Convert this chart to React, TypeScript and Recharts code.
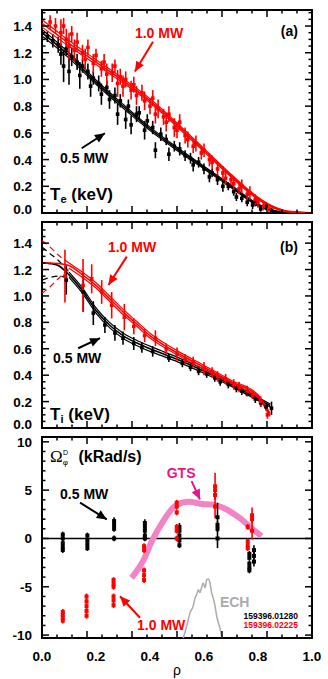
import {
  ComposedChart,
  Line,
  Scatter,
  ErrorBar,
  XAxis,
  YAxis,
  ReferenceLine,
  ReferenceDot,
  ReferenceArea
} from 'recharts';

const FONT = '"Liberation Sans", Arial, Helvetica, sans-serif';
const RED = '#ff0000';
const BLACK = '#000000';
const PINK = '#f283c4';
const MAGENTA = '#e8148c';
const GREY = '#ababab';

const X_TICKS = [0, 0.2, 0.4, 0.6, 0.8, 1.0];
// frame tick marks along rho (the figure's marks fall on sixths, minor on eighteenths)
const X_MARKS = [0, 0.1667, 0.3333, 0.5, 0.6667, 0.8333, 1];
const X_MARKS_MINOR = [0.0556, 0.1111, 0.2222, 0.2778, 0.3889, 0.4444, 0.5556, 0.6111, 0.7222, 0.7778, 0.8889, 0.9444];
const TE_TICKS = [0, 0.2, 0.4, 0.6, 0.8, 1.0, 1.2, 1.4];
const TE_MINOR = [0.05, 0.1, 0.15, 0.25, 0.3, 0.35, 0.45, 0.5, 0.55, 0.65, 0.7, 0.75, 0.85, 0.9, 0.95,
  1.05, 1.1, 1.15, 1.25, 1.3, 1.35, 1.45, 1.5];
const OM_TICKS = [-10, -5, 0, 5, 10];
const OM_MINOR = [-9, -8, -7, -6, -4, -3, -2, -1, 1, 2, 3, 4, 6, 7, 8, 9];

// (a) Te fits: 0.5 MW (black) and 1.0 MW (red), with band half-widths
const TE_RHO_05 = [0, 0.1, 0.2, 0.3, 0.4, 0.5, 0.6, 0.7, 0.8, 0.85, 0.9];
const TE_FIT_05 = [1.35, 1.18, 0.98, 0.8, 0.63, 0.48, 0.34, 0.2, 0.06, 0.02, 0.0];
const TE_BAND_05 = [0.025, 0.02, 0.016, 0.015, 0.013, 0.012, 0.01, 0.009, 0.008, 0.006, 0.004];
const TE_RHO_10 = [0, 0.1, 0.2, 0.3, 0.4, 0.5, 0.6, 0.7, 0.8, 0.85, 0.9, 0.95, 1.0];
const TE_FIT_10 = [1.42, 1.27, 1.13, 0.99, 0.84, 0.66, 0.47, 0.28, 0.11, 0.05, 0.015, 0.005, 0.0];
const TE_BAND_10 = [0.028, 0.022, 0.018, 0.016, 0.015, 0.014, 0.012, 0.01, 0.008, 0.006, 0.004, 0.003, 0.002];

// (a) Te measurements [rho, Te, err]
const TE_PTS_05 = [
  [0.02, 1.32, 0.04], [0.04, 1.29, 0.05], [0.06, 1.26, 0.06], [0.07, 1.19, 0.08], [0.08, 1.1, 0.12],
  [0.09, 1.23, 0.05], [0.1, 1.06, 0.1], [0.11, 1.17, 0.07], [0.13, 1.13, 0.06], [0.14, 1.03, 0.1],
  [0.15, 1.1, 0.05], [0.17, 1.06, 0.06], [0.18, 0.95, 0.08], [0.19, 1.01, 0.05], [0.21, 0.97, 0.06],
  [0.22, 0.89, 0.08], [0.24, 0.94, 0.05], [0.25, 0.85, 0.07], [0.27, 0.88, 0.06], [0.28, 0.74, 0.08],
  [0.29, 0.84, 0.05], [0.31, 0.7, 0.07], [0.32, 0.8, 0.05], [0.33, 0.66, 0.07], [0.35, 0.74, 0.06],
  [0.36, 0.75, 0.05], [0.38, 0.62, 0.07], [0.39, 0.69, 0.05], [0.41, 0.64, 0.05], [0.42, 0.47, 0.06],
  [0.44, 0.59, 0.05], [0.46, 0.55, 0.04], [0.47, 0.44, 0.05], [0.49, 0.5, 0.04], [0.51, 0.48, 0.05],
  [0.53, 0.43, 0.04], [0.55, 0.41, 0.04], [0.56, 0.36, 0.05], [0.58, 0.38, 0.04], [0.6, 0.33, 0.04],
  [0.62, 0.27, 0.04], [0.63, 0.3, 0.03], [0.65, 0.25, 0.04], [0.67, 0.2, 0.04], [0.69, 0.2, 0.03],
  [0.71, 0.16, 0.03], [0.72, 0.12, 0.03], [0.74, 0.11, 0.03], [0.76, 0.08, 0.03], [0.78, 0.06, 0.03],
  [0.79, 0.09, 0.04], [0.81, 0.03, 0.02], [0.83, 0.05, 0.03], [0.85, 0.02, 0.02]
];
const TE_PTS_10 = [
  [0.03, 1.43, 0.05], [0.05, 1.4, 0.06], [0.07, 1.35, 0.1], [0.08, 1.4, 0.06], [0.09, 1.3, 0.08],
  [0.1, 1.25, 0.1], [0.11, 1.34, 0.06], [0.12, 1.22, 0.08], [0.13, 1.28, 0.07], [0.15, 1.2, 0.06],
  [0.16, 1.15, 0.08], [0.17, 1.24, 0.06], [0.19, 1.12, 0.07], [0.2, 1.18, 0.05], [0.22, 1.08, 0.06],
  [0.23, 1.13, 0.06], [0.24, 1.04, 0.08], [0.26, 1.05, 0.07], [0.27, 1.1, 0.05], [0.28, 0.97, 0.1],
  [0.29, 1.02, 0.06], [0.3, 0.95, 0.08], [0.31, 1.0, 0.06], [0.33, 0.92, 0.07], [0.34, 0.96, 0.06],
  [0.35, 0.88, 0.07], [0.37, 0.9, 0.06], [0.38, 0.84, 0.07], [0.4, 0.8, 0.06], [0.41, 0.86, 0.06],
  [0.42, 0.74, 0.07], [0.43, 0.78, 0.07], [0.45, 0.72, 0.06], [0.46, 0.68, 0.07], [0.47, 0.74, 0.06],
  [0.49, 0.64, 0.07], [0.5, 0.62, 0.06], [0.51, 0.68, 0.06], [0.53, 0.58, 0.06], [0.54, 0.55, 0.06],
  [0.56, 0.5, 0.05], [0.57, 0.52, 0.06], [0.59, 0.45, 0.05], [0.6, 0.47, 0.05], [0.62, 0.4, 0.05],
  [0.63, 0.38, 0.05], [0.65, 0.33, 0.05], [0.67, 0.3, 0.05], [0.68, 0.26, 0.05], [0.7, 0.25, 0.04],
  [0.71, 0.22, 0.05], [0.73, 0.18, 0.04], [0.74, 0.2, 0.05], [0.76, 0.14, 0.04], [0.77, 0.15, 0.05],
  [0.79, 0.1, 0.04], [0.8, 0.08, 0.04], [0.82, 0.05, 0.03], [0.84, 0.03, 0.02]
];

// (b) Ti fits, with upper / lower bounds (dashed inside rho 0.1)
const TI_RHO = [0, 0.03, 0.06, 0.1, 0.15, 0.2, 0.25, 0.3, 0.35, 0.4, 0.45, 0.5, 0.6, 0.7, 0.8, 0.845];
const TI_FIT_05 = [1.25, 1.245, 1.23, 1.16, 1.04, 0.89, 0.78, 0.7, 0.645, 0.6, 0.56, 0.52, 0.43, 0.33, 0.22, 0.17];
const TI_UP_05 = [1.37, 1.32, 1.27, 1.18, 1.06, 0.91, 0.8, 0.72, 0.665, 0.62, 0.578, 0.537, 0.445, 0.343, 0.232, 0.182];
const TI_LO_05 = [1.12, 1.14, 1.15, 1.14, 1.02, 0.87, 0.76, 0.68, 0.625, 0.58, 0.542, 0.503, 0.415, 0.317, 0.208, 0.158];
const TI_FIT_10 = [1.25, 1.25, 1.245, 1.23, 1.16, 1.08, 0.98, 0.88, 0.79, 0.7, 0.63, 0.57, 0.46, 0.35, 0.24, 0.1];
const TI_UP_10 = [1.42, 1.37, 1.31, 1.25, 1.18, 1.1, 1.0, 0.9, 0.808, 0.718, 0.647, 0.586, 0.474, 0.362, 0.252, 0.112];
const TI_LO_10 = [1.02, 1.07, 1.13, 1.21, 1.14, 1.06, 0.96, 0.86, 0.772, 0.682, 0.613, 0.554, 0.446, 0.338, 0.228, 0.088];

// (b) Ti measurements [rho, Ti, err]
const TI_PTS_05 = [
  [0.09, 1.12, 0.11], [0.153, 1.03, 0.15], [0.19, 0.87, 0.09], [0.233, 0.78, 0.06], [0.27, 0.72, 0.06],
  [0.3, 0.68, 0.05], [0.34, 0.64, 0.05], [0.37, 0.61, 0.04], [0.41, 0.58, 0.04], [0.47, 0.53, 0.03],
  [0.52, 0.49, 0.03], [0.55, 0.46, 0.03], [0.58, 0.43, 0.03], [0.61, 0.41, 0.03], [0.64, 0.38, 0.03],
  [0.66, 0.35, 0.03], [0.69, 0.33, 0.03], [0.72, 0.3, 0.03], [0.74, 0.28, 0.03], [0.76, 0.26, 0.02],
  [0.79, 0.22, 0.03], [0.81, 0.19, 0.03], [0.83, 0.16, 0.03], [0.85, 0.15, 0.05]
];
const TI_PTS_10 = [
  [0.085, 1.15, 0.2], [0.152, 1.08, 0.2], [0.184, 1.13, 0.11], [0.221, 1.03, 0.09], [0.258, 0.93, 0.1],
  [0.305, 0.84, 0.1], [0.34, 0.77, 0.06], [0.38, 0.7, 0.05], [0.42, 0.68, 0.06], [0.46, 0.6, 0.04],
  [0.5, 0.56, 0.05], [0.53, 0.52, 0.04], [0.56, 0.5, 0.04], [0.6, 0.45, 0.05], [0.63, 0.42, 0.04],
  [0.65, 0.39, 0.04], [0.68, 0.37, 0.04], [0.71, 0.33, 0.04], [0.73, 0.31, 0.04], [0.76, 0.28, 0.04],
  [0.78, 0.25, 0.03], [0.81, 0.2, 0.04], [0.835, 0.1, 0.03]
];

// (c) rotation measurements [rho, Omega, err]
const OM_PTS_05 = [
  [0.077, 0.4, 0.3], [0.077, 0, 0.3], [0.077, -0.5, 0.3], [0.077, -0.9, 0.3], [0.077, -1.2, 0.3],
  [0.168, 0.3, 0.3], [0.168, -0.2, 0.3], [0.168, -0.6, 0.3], [0.168, -1.0, 0.3],
  [0.267, 1.8, 0.4], [0.267, 1.4, 0.3], [0.267, 1.0, 0.3], [0.267, 0.0, 0.3],
  [0.381, 1.6, 0.4], [0.381, 1.2, 0.3], [0.381, 0.8, 0.3], [0.381, 0.3, 0.3], [0.381, 0.0, 0.3],
  [0.509, 1.2, 0.4], [0.509, 0.8, 0.3], [0.509, 0.3, 0.3], [0.509, -0.2, 0.3], [0.509, -0.7, 0.3],
  [0.65, 2.2, 1.5], [0.65, 1.4, 0.4], [0.65, 1.0, 0.3], [0.65, 0.0, 1.0],
  [0.768, -1.6, 0.3], [0.768, -2.0, 0.3], [0.768, -2.6, 0.3], [0.768, -3.0, 0.3], [0.768, -3.3, 0.3],
  [0.785, -1.2, 0.5], [0.785, -1.8, 0.4], [0.785, -2.4, 0.5]
];
const OM_PTS_10 = [
  [0.077, -7.6, 0.3], [0.077, -7.9, 0.3], [0.077, -8.2, 0.3], [0.077, -8.5, 0.3],
  [0.165, -6.0, 0.3], [0.165, -6.5, 0.3], [0.165, -7.0, 0.4], [0.165, -7.5, 0.4], [0.165, -8.0, 0.3],
  [0.265, -4.3, 0.3], [0.265, -4.7, 0.3], [0.265, -5.0, 0.3], [0.265, -6.0, 0.3], [0.265, -6.4, 0.3], [0.265, -6.9, 0.3],
  [0.378, -0.8, 0.3], [0.378, -1.2, 0.3], [0.378, -3.3, 0.3], [0.378, -3.8, 0.3], [0.378, -4.3, 0.3],
  [0.499, 3.7, 0.3], [0.499, 3.3, 0.3], [0.499, 2.7, 0.3], [0.499, 1.2, 0.3], [0.499, 0.8, 0.3], [0.499, 0.0, 0.3],
  [0.641, 5.4, 1.4], [0.641, 5.0, 0.4], [0.641, 4.5, 0.4], [0.641, 3.3, 1.2],
  [0.762, 1.2, 0.3], [0.762, -0.3, 0.3], [0.762, -0.7, 0.4], [0.762, -1.0, 0.3],
  [0.778, 2.4, 0.8], [0.778, 2.0, 0.4], [0.778, 0.8, 0.9]
];

// (c) GTS simulation and ECH deposition profile
const GTS_RHO = [0.332, 0.374, 0.41, 0.449, 0.486, 0.517, 0.548, 0.585, 0.634, 0.684, 0.733, 0.783, 0.813];
const GTS_OM = [-4.07, -2.35, -0.1, 1.8, 3.2, 3.7, 3.8, 3.6, 3.5, 3.0, 2.1, 0.9, 0.25];
const ECH_RHO = [0.523, 0.536, 0.548, 0.56, 0.567, 0.573, 0.579, 0.585, 0.591, 0.597, 0.604, 0.61, 0.616,
  0.622, 0.628, 0.634, 0.641, 0.647, 0.653, 0.659, 0.665, 0.668];
const ECH_OM = [-10.3, -9.09, -7.7, -7.0, -6.15, -5.8, -5.3, -5.6, -5.1, -4.6, -5.1, -4.25, -4.2,
  -4.6, -5.6, -6.15, -7.0, -8.05, -8.7, -9.25, -10.1, -10.3];

const pts = (rows: number[][]) => rows.map(([x, y, err]) => ({ x, y, err }));
const curve = (xs: number[], ys: number[]) => xs.map((x, i) => ({ x, y: ys[i] }));
const shifted = (xs: number[], ys: number[], b: number[], s: number) =>
  xs.map((x, i) => ({ x, y: ys[i] + s * b[i] }));

const tickStyle = { fill: BLACK, fontSize: 13.5, fontWeight: 'bold', fontFamily: FONT };

// left tick labels; the 0.0 label of the temperature panels sits a little higher, as in the figure
const yTick = (fmt: (v: number) => string, liftZero: boolean) => (p: any) => (
  <text
    x={p.x}
    y={p.y + (liftZero && p.payload.value === 0 ? -4 : 0)}
    dy={5}
    textAnchor="end"
    fill={BLACK}
    fontSize={13.5}
    fontWeight="bold"
    fontFamily={FONT}
  >
    {fmt(p.payload.value)}
  </text>
);

const arrowHead = (color: string) => (p: any) => {
  const pl = p.points;
  if (p.index !== 1 || !pl || pl.length < 2) return <g key={`ah-${p.index}`} />;
  const a = pl[0];
  const b = pl[1];
  const ang = Math.atan2(b.y - a.y, b.x - a.x);
  const len = 10;
  const half = 4.5;
  const bx = b.x - len * Math.cos(ang);
  const by = b.y - len * Math.sin(ang);
  const nx = -Math.sin(ang) * half;
  const ny = Math.cos(ang) * half;
  return (
    <polygon
      key={`ah-${p.index}`}
      points={`${b.x},${b.y} ${bx + nx},${by + ny} ${bx - nx},${by - ny}`}
      fill={color}
    />
  );
};

const arrow = (id: string, from: number[], to: number[], color: string) => (
  <Line
    key={id}
    data={[{ x: from[0], y: from[1] }, { x: to[0], y: to[1] }]}
    dataKey="y"
    stroke={color}
    strokeWidth={2}
    dot={arrowHead(color)}
    activeDot={false}
    legendType="none"
    isAnimationActive={false}
  />
);

const note = (
  id: string,
  x: number,
  y: number,
  body: any,
  color: string,
  size = 14,
  anchor = 'start',
  weight = 'bold'
) => (
  <ReferenceDot
    key={id}
    x={x}
    y={y}
    r={0}
    ifOverflow="visible"
    shape={(p: any) => (
      <text
        x={p.cx}
        y={p.cy}
        fill={color}
        fontSize={size}
        fontWeight={weight}
        fontFamily={FONT}
        textAnchor={anchor}
      >
        {body}
      </text>
    )}
  />
);

const fitLine = (id: string, data: any[], color: string, width = 1.2, dash?: string) => (
  <Line
    key={id}
    data={data}
    dataKey="y"
    type="monotone"
    stroke={color}
    strokeWidth={width}
    strokeDasharray={dash}
    dot={false}
    activeDot={false}
    isAnimationActive={false}
  />
);

const markers = (id: string, data: any[], color: string, r = 1.8) => (
  <Scatter
    key={id}
    data={data}
    dataKey="y"
    fill={color}
    isAnimationActive={false}
    shape={(p: any) => <rect x={p.cx - r} y={p.cy - r} width={2 * r} height={2 * r} fill={color} />}
  >
    <ErrorBar dataKey="err" direction="y" width={0} stroke={color} strokeWidth={1.6} />
  </Scatter>
);

// inward frame tick marks, placed through the chart's scales
const tickMarks = (domain: number[], yMajor: number[], yMinor: number[]) => {
  const marks: any[] = [];
  const addX = (list: number[], len: number) =>
    list.forEach((t) => {
      marks.push({ x: t, y: domain[0], dx: 0, dy: -len });
      marks.push({ x: t, y: domain[1], dx: 0, dy: len });
    });
  const addY = (list: number[], len: number) =>
    list.forEach((v) => {
      marks.push({ x: 0, y: v, dx: len, dy: 0 });
      marks.push({ x: 1, y: v, dx: -len, dy: 0 });
    });
  addX(X_MARKS, 7);
  addX(X_MARKS_MINOR, 3.5);
  addY(yMajor, 7);
  addY(yMinor, 3.5);
  return (
    <Scatter
      key="marks"
      data={marks}
      dataKey="y"
      isAnimationActive={false}
      shape={(p: any) => (
        <line
          x1={p.cx}
          y1={p.cy}
          x2={p.cx + p.payload.dx}
          y2={p.cy + p.payload.dy}
          stroke={BLACK}
          strokeWidth={1.5}
        />
      )}
    />
  );
};

const frame = (
  domain: number[],
  ticks: number[],
  minor: number[],
  fmt: (v: number) => string,
  bottomLabels: boolean
) => [
  <XAxis
    key="xb"
    type="number"
    dataKey="x"
    domain={[0, 1]}
    ticks={X_TICKS}
    interval={0}
    allowDataOverflow
    height={bottomLabels ? 41 : 0}
    tick={bottomLabels ? tickStyle : false}
    tickFormatter={(v: number) => v.toFixed(1)}
    tickLine={false}
    tickMargin={7}
    axisLine={false}
  />,
  <YAxis
    key="yl"
    type="number"
    domain={domain}
    ticks={ticks}
    interval={0}
    allowDataOverflow
    width={42}
    tick={yTick(fmt, !bottomLabels)}
    tickLine={false}
    tickMargin={4}
    axisLine={false}
  />,
  tickMarks(domain, ticks, minor),
  <ReferenceArea
    key="box"
    x1={0}
    x2={1}
    y1={domain[0]}
    y2={domain[1]}
    fill="none"
    fillOpacity={0}
    stroke={BLACK}
    strokeWidth={2}
    ifOverflow="visible"
  />
];

const fixed1 = (v: number) => v.toFixed(1);
const plain = (v: number) => String(v);

const layer: any = { position: 'absolute', left: 0, top: 0 };

function PanelTe() {
  return (
    <div style={layer}>
      <ComposedChart width={328} height={679} margin={{ top: 10, right: 16, bottom: 466, left: 0 }}>
        {frame([0, 1.52], TE_TICKS, TE_MINOR, fixed1, false)}
        {fitLine('b-up', shifted(TE_RHO_05, TE_FIT_05, TE_BAND_05, 1), BLACK)}
        {fitLine('b-lo', shifted(TE_RHO_05, TE_FIT_05, TE_BAND_05, -1), BLACK)}
        {fitLine('b-c', curve(TE_RHO_05, TE_FIT_05), BLACK, 1.6)}
        {markers('b-p', pts(TE_PTS_05), BLACK)}
        {fitLine('r-up', shifted(TE_RHO_10, TE_FIT_10, TE_BAND_10, 1), RED)}
        {fitLine('r-lo', shifted(TE_RHO_10, TE_FIT_10, TE_BAND_10, -1), RED)}
        {fitLine('r-c', curve(TE_RHO_10, TE_FIT_10), RED, 1.6)}
        {markers('r-p', pts(TE_PTS_10), RED)}
        {arrow('ar-r', [0.411, 1.283], [0.344, 1.059], RED)}
        {arrow('ar-b', [0.147, 0.485], [0.233, 0.597], BLACK)}
        {note('t-r', 0.344, 1.31, '1.0 MW', RED)}
        {note('t-b', 0.067, 0.375, '0.5 MW', BLACK)}
        {note('t-a', 0.948, 1.326, '(a)', BLACK, 14, 'end')}
        {note(
          't-y',
          0.03,
          0.097,
          <>
            <tspan>T</tspan>
            <tspan fontSize={11} dy={3}>e</tspan>
            <tspan dy={-3}> (keV)</tspan>
          </>,
          BLACK,
          17
        )}
      </ComposedChart>
    </div>
  );
}

const core = (xs: number[], ys: number[]) => curve(xs, ys).filter((d) => d.x <= 0.1);
const outer = (xs: number[], ys: number[]) => curve(xs, ys).filter((d) => d.x >= 0.1);

function PanelTi() {
  return (
    <div style={layer}>
      <ComposedChart width={328} height={679} margin={{ top: 222, right: 16, bottom: 251, left: 0 }}>
        {frame([0, 1.56], TE_TICKS, TE_MINOR, fixed1, false)}
        {fitLine('b-upd', core(TI_RHO, TI_UP_05), BLACK, 1.2, '6 4')}
        {fitLine('b-lod', core(TI_RHO, TI_LO_05), BLACK, 1.2, '6 4')}
        {fitLine('b-up', outer(TI_RHO, TI_UP_05), BLACK)}
        {fitLine('b-lo', outer(TI_RHO, TI_LO_05), BLACK)}
        {fitLine('b-c', curve(TI_RHO, TI_FIT_05), BLACK, 1.6)}
        {markers('b-p', pts(TI_PTS_05), BLACK)}
        {fitLine('r-upd', core(TI_RHO, TI_UP_10), RED, 1.2, '6 4')}
        {fitLine('r-lod', core(TI_RHO, TI_LO_10), RED, 1.2, '6 4')}
        {fitLine('r-up', outer(TI_RHO, TI_UP_10), RED)}
        {fitLine('r-lo', outer(TI_RHO, TI_LO_10), RED)}
        {fitLine('r-c', curve(TI_RHO, TI_FIT_10), RED, 1.6)}
        {markers('r-p', pts(TI_PTS_10), RED)}
        {arrow('ar-r', [0.314, 1.298], [0.246, 1.083], RED)}
        {arrow('ar-b', [0.134, 0.604], [0.215, 0.68], BLACK)}
        {note('t-r', 0.244, 1.333, '1.0 MW', RED)}
        {note('t-b', 0.041, 0.49, '0.5 MW', BLACK)}
        {note('t-a', 0.948, 1.335, '(b)', BLACK, 14, 'end')}
        {note(
          't-y',
          0.03,
          0.06,
          <>
            <tspan>T</tspan>
            <tspan fontSize={11} dy={3}>i</tspan>
            <tspan dy={-3}> (keV)</tspan>
          </>,
          BLACK,
          17
        )}
      </ComposedChart>
    </div>
  );
}

function PanelOmega() {
  return (
    <div style={layer}>
      <ComposedChart width={328} height={679} margin={{ top: 437, right: 16, bottom: 0, left: 0 }}>
        {frame([-10.3, 10.5], OM_TICKS, OM_MINOR, plain, true)}
        <ReferenceLine y={0} stroke={BLACK} strokeWidth={1.5} />
        {fitLine('ech', curve(ECH_RHO, ECH_OM), GREY, 1.5)}
        {fitLine('gts', curve(GTS_RHO, GTS_OM), PINK, 6)}
        {markers('b-p', pts(OM_PTS_05), BLACK, 2)}
        {markers('r-p', pts(OM_PTS_10), RED, 2)}
        {arrow('ar-g', [0.554, 5.94], [0.585, 4.04], MAGENTA)}
        {arrow('ar-b', [0.141, 3.7], [0.24, 1.97], BLACK)}
        {arrow('ar-r', [0.363, -8.2], [0.289, -5.98], RED)}
        {note('t-g', 0.462, 6.3, 'GTS', MAGENTA)}
        {note('t-b', 0.067, 4.04, '0.5 MW', BLACK)}
        {note('t-r', 0.352, -9.43, '1.0 MW', RED)}
        {note('t-e', 0.659, -7.05, 'ECH', GREY)}
        {note('s-b', 0.948, -8.29, '159396.01280', BLACK, 8.5, 'end')}
        {note('s-r', 0.948, -9.22, '159396.02225', RED, 8.5, 'end')}
        {note('x-l', 0.5, -14.1, 'ρ', BLACK, 14, 'middle', 'normal')}
        {note(
          't-y',
          0.03,
          7.9,
          <>
            <tspan fontFamily='"Liberation Serif", serif' fontWeight="normal" fontSize={17}>Ω</tspan>
            <tspan fontSize={8} fontWeight="normal" dy={3}>φ</tspan>
            <tspan fontSize={7} fontWeight="normal" dx={-5} dy={-10}>D</tspan>
            <tspan dx={6} dy={7}> (kRad/s)</tspan>
          </>,
          BLACK,
          16
        )}
      </ComposedChart>
    </div>
  );
}

export default function App() {
  return (
    <div style={{ position: 'absolute', left: 0, top: 0, width: 328, height: 679, background: '#fff' }}>
      <PanelTe />
      <PanelTi />
      <PanelOmega />
    </div>
  );
}
